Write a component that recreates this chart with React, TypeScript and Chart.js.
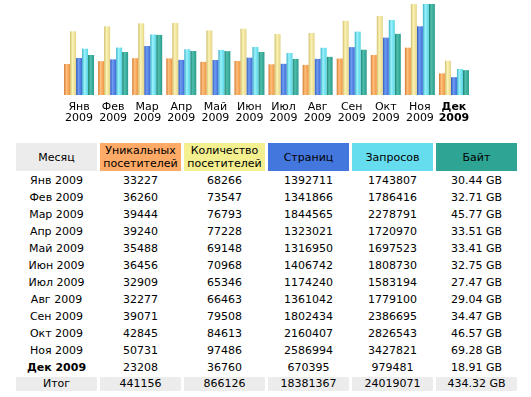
import React, { useEffect, useRef } from 'react';
import { Chart, registerables } from 'chart.js';

Chart.register(...registerables);

// ---- data ----
const months = ['Янв', 'Фев', 'Мар', 'Апр', 'Май', 'Июн', 'Июл', 'Авг', 'Сен', 'Окт', 'Ноя', 'Дек'];
const year = '2009';
const uniqueVisitors = [33227, 36260, 39444, 39240, 35488, 36456, 32909, 32277, 39071, 42845, 50731, 23208];
const visits = [68266, 73547, 76793, 77228, 69148, 70968, 65346, 66463, 79508, 84613, 97486, 36760];
const pages = [1392711, 1341866, 1844565, 1323021, 1316950, 1406742, 1174240, 1361042, 1802434, 2160407, 2586994, 670395];
const hits = [1743807, 1786416, 2278791, 1720970, 1697523, 1808730, 1583194, 1779100, 2386695, 2826543, 3427821, 979481];
const bytesGB = [30.44, 32.71, 45.77, 33.51, 33.41, 32.75, 27.47, 29.04, 34.47, 46.57, 69.28, 18.91];
const totals = ['441156', '866126', '18381367', '24019071', '434.32 GB'];
const headers = ['Месяц', 'Уникальных\nпосетителей', 'Количество\nпосетителей', 'Страниц', 'Запросов', 'Байт'];
const totalLabel = 'Итог';
const currentMonthIndex = 11;

// ---- styles ----
const FONT = '"DejaVu Sans", Verdana, sans-serif';
const headerColors = ['#ECECEC', '#FFAA66', '#F4F090', '#4477DD', '#66DDEE', '#2EA495'];
const barShades = [
  ['#D27A2E', '#FFC07E', '#EE9440'],
  ['#CDBE6A', '#FBF3B4', '#E4D488'],
  ['#2A55B8', '#6F9CF2', '#3E6CD6'],
  ['#38AFC6', '#9AF2FB', '#56D4E4'],
  ['#1B7C6C', '#4FC0AE', '#2A9A8A'],
];
const colX = [16, 100, 184, 268, 352, 436];
const colW = 81;

const cylinderPlugin = {
  id: 'cylinderBars',
  beforeDatasetsDraw(chart: any) {
    const ctx = chart.ctx;
    chart.data.datasets.forEach((_ds: any, di: number) => {
      const meta = chart.getDatasetMeta(di);
      const shades = barShades[di];
      meta.data.forEach((el: any) => {
        const { x, width } = el.getProps(['x', 'width'], true);
        const g = ctx.createLinearGradient(x - width / 2, 0, x + width / 2, 0);
        g.addColorStop(0, shades[0]);
        g.addColorStop(0.4, shades[1]);
        g.addColorStop(1, shades[2]);
        el.options = { ...el.options, backgroundColor: g };
      });
    });
  },
};

function BarChart() {
  const ref = useRef<HTMLCanvasElement | null>(null);
  useEffect(() => {
    if (!ref.current) return;
    const chart = new Chart(ref.current, {
      type: 'bar',
      data: {
        labels: months.map((m) => [m, year]),
        datasets: [
          { data: uniqueVisitors, yAxisID: 'yv', backgroundColor: headerColors[1], borderWidth: 0 },
          { data: visits, yAxisID: 'yv', backgroundColor: headerColors[2], borderWidth: 0 },
          { data: pages, yAxisID: 'yh', backgroundColor: headerColors[3], borderWidth: 0 },
          { data: hits, yAxisID: 'yh', backgroundColor: headerColors[4], borderWidth: 0 },
          { data: bytesGB, yAxisID: 'yk', backgroundColor: headerColors[5], borderWidth: 0 },
        ],
      },
      options: {
        responsive: false,
        animation: false,
        events: [],
        layout: { padding: { left: 62, right: 60, top: 4, bottom: 0 } },
        plugins: { legend: { display: false }, tooltip: { enabled: false } },
        datasets: { bar: { categoryPercentage: 0.88, barPercentage: 1 } },
        scales: {
          x: {
            grid: { display: false, drawTicks: false },
            border: { display: false },
            ticks: {
              autoSkip: false,
              maxRotation: 0,
              padding: 6,
              color: '#000',
              font: (c: any) => ({
                family: FONT,
                size: 11,
                lineHeight: 1.05,
                weight: c.index === currentMonthIndex ? 'bold' : 'normal',
              }),
            },
            afterFit: (s: any) => {
              s.height = 35;
            },
          },
          yv: { display: false, min: 0, max: Math.max(...visits) },
          yh: { display: false, min: 0, max: Math.max(...hits) },
          yk: { display: false, min: 0, max: Math.max(...bytesGB) },
        },
      } as any,
      plugins: [cylinderPlugin],
    });
    return () => chart.destroy();
  }, []);
  return <canvas ref={ref} width={531} height={130} style={{ position: 'absolute', left: 0, top: 0, width: 531, height: 130 }} />;
}

const cell = (x: number, top: number, h: number, extra: React.CSSProperties = {}): React.CSSProperties => ({
  position: 'absolute',
  left: x,
  top,
  width: colW,
  height: h,
  lineHeight: h + 'px',
  textAlign: 'center',
  whiteSpace: 'nowrap',
  ...extra,
});

export default function App() {
  const rows = months.map((m, i) => [
    `${m} ${year}`,
    String(uniqueVisitors[i]),
    String(visits[i]),
    String(pages[i]),
    String(hits[i]),
    bytesGB[i].toFixed(2) + ' GB',
  ]);
  return (
    <div
      style={{
        position: 'absolute',
        left: 0,
        top: 0,
        width: 531,
        height: 397,
        background: '#fff',
        fontFamily: FONT,
        fontSize: 11,
        color: '#000',
        overflow: 'hidden',
      }}
    >
      <BarChart />
      {headers.map((h, c) => (
        <div
          key={'h' + c}
          style={{
            position: 'absolute',
            left: colX[c],
            top: 143,
            width: colW,
            height: 28,
            background: headerColors[c],
            display: 'flex',
            alignItems: 'center',
            justifyContent: 'center',
            textAlign: 'center',
            whiteSpace: 'pre-line',
            lineHeight: '13px',
          }}
        >
          {h}
        </div>
      ))}
      {rows.map((r, i) =>
        r.map((v, c) => (
          <div
            key={`r${i}c${c}`}
            style={cell(colX[c], 172 + 17 * i, 17, {
              fontWeight: c === 0 && i === currentMonthIndex ? 'bold' : 'normal',
            })}
          >
            {v}
          </div>
        ))
      )}
      {[totalLabel, ...totals].map((v, c) => (
        <div key={'t' + c} style={cell(colX[c], 377, 14, { background: '#ECECEC' })}>
          {v}
        </div>
      ))}
    </div>
  );
}
